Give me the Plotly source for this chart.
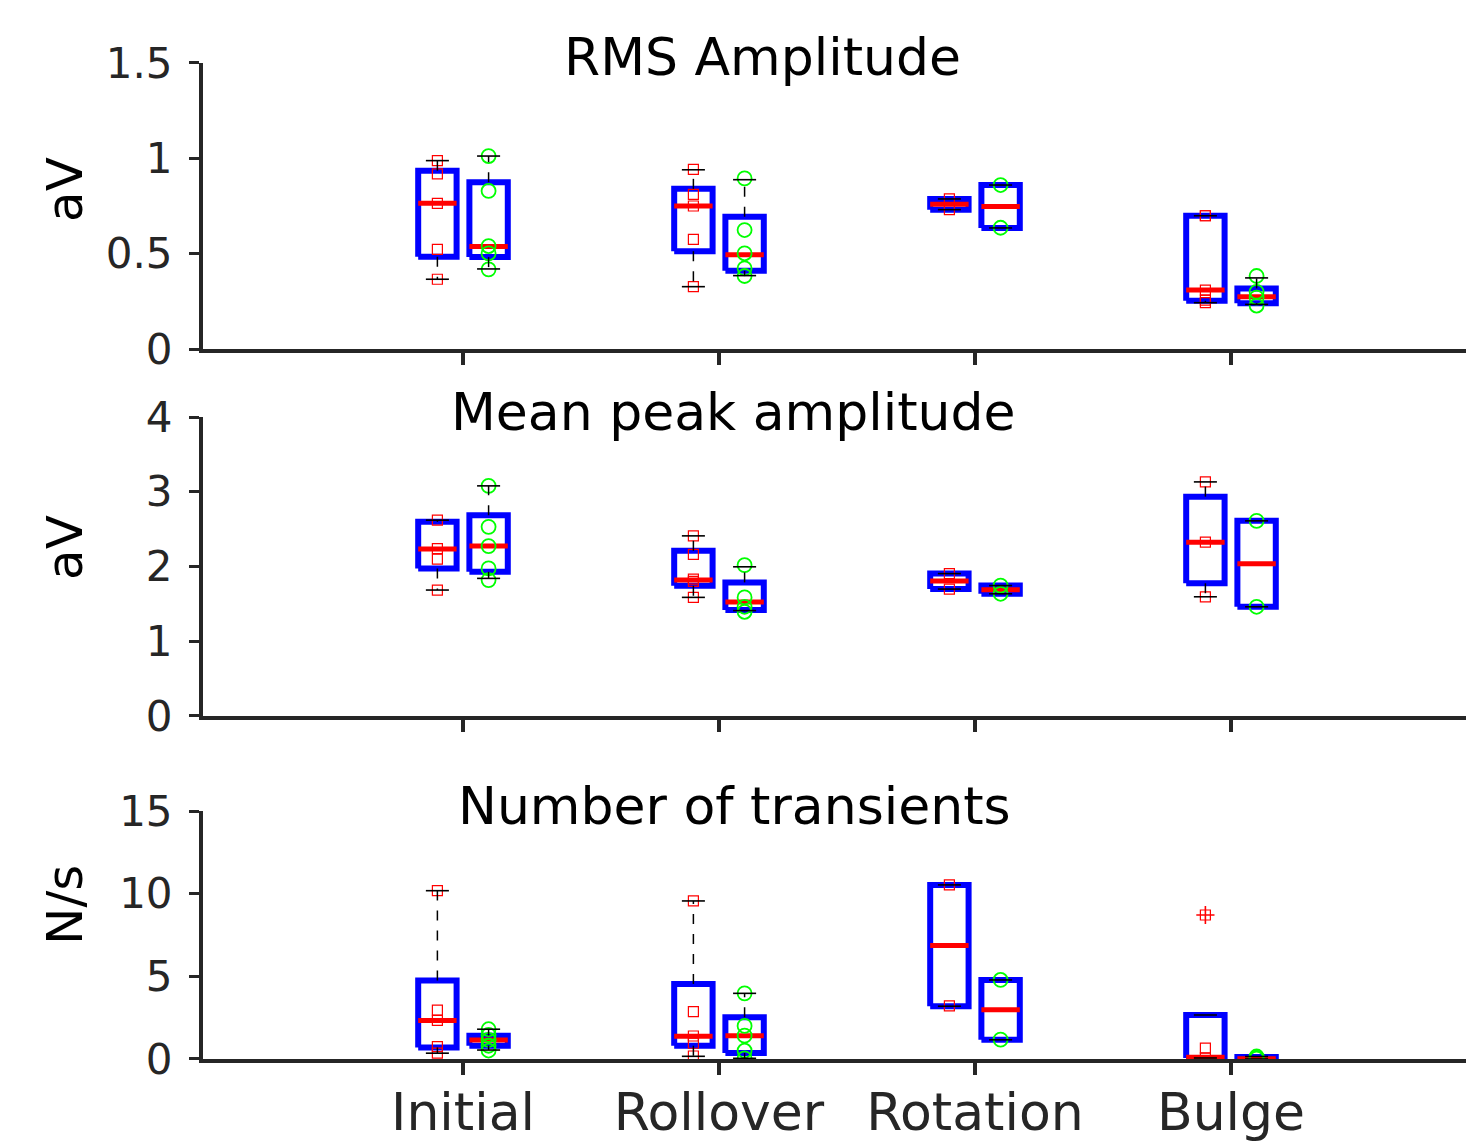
import plotly.graph_objects as go

# ---------------- data ----------------
categories = ["Initial", "Rollover", "Rotation", "Bulge"]
panel_titles = ["RMS Amplitude", "Mean peak amplitude", "Number of transients"]
panel_ylabels = ["aV", "aV", "N/s"]
panel_yticks = [[0, 0.5, 1, 1.5], [0, 1, 2, 3, 4], [0, 5, 10, 15]]
panel_yticktext = [["0", "0.5", "1", "1.5"], ["0", "1", "2", "3", "4"], ["0", "5", "10", "15"]]
panel_yranges = [[0, 1.5], [0, 4], [0, 15]]

# box statistics per category: (lower whisker, q1, median, q3, upper whisker)
rms_red_stats = [(0.366, 0.484, 0.764, 0.935, 0.988), (0.327, 0.513, 0.750, 0.840, 0.940),
                 (0.731, 0.731, 0.759, 0.787, 0.787), (0.243, 0.253, 0.309, 0.699, 0.699)]
rms_red_points = [[0.988, 0.918, 0.764, 0.523, 0.366], [0.942, 0.811, 0.750, 0.575, 0.327],
                  [0.787, 0.731], [0.699, 0.699, 0.309, 0.256, 0.243]]
rms_green_stats = [(0.420, 0.482, 0.538, 0.875, 1.012), (0.385, 0.410, 0.495, 0.693, 0.888),
                   (0.635, 0.635, 0.748, 0.860, 0.860), (0.234, 0.240, 0.274, 0.318, 0.373)]
rms_green_points = [[1.012, 0.829, 0.540, 0.502, 0.418], [0.895, 0.624, 0.502, 0.423, 0.383],
                    [0.860, 0.636], [0.383, 0.300, 0.270, 0.228]]

peak_red_stats = [(1.685, 1.975, 2.233, 2.598, 2.620), (1.587, 1.742, 1.818, 2.210, 2.410),
                  (1.698, 1.698, 1.805, 1.905, 1.905), (1.595, 1.776, 2.326, 2.935, 3.132)]
peak_red_points = [[2.620, 2.240, 2.100, 1.685], [2.410, 2.162, 1.830, 1.800, 1.587],
                   [1.905, 1.698], [3.132, 2.326, 1.595]]
peak_green_stats = [(1.841, 1.929, 2.273, 2.687, 3.079), (1.410, 1.417, 1.524, 1.787, 1.996),
                    (1.635, 1.635, 1.690, 1.745, 1.745), (1.461, 1.461, 2.036, 2.611, 2.611)]
peak_green_points = [[3.079, 2.531, 2.273, 1.975, 1.818], [2.019, 1.587, 1.461, 1.394],
                     [1.745, 1.635], [2.611, 1.461]]

trans_red_stats = [(0.35, 0.70, 2.32, 4.74, 10.18), (0.16, 0.80, 1.37, 4.54, 9.56),
                   (3.19, 3.19, 6.87, 10.53, 10.53), (0.06, 0.06, 0.10, 2.66, 2.66)]
trans_red_points = [[10.18, 2.96, 2.33, 0.75, 0.35], [9.56, 2.86, 1.39, 0.95, 0.18],
                    [10.53, 3.21], [8.71, 0.66, 0.06]]
trans_red_outliers = [[], [], [], [8.71]]
trans_green_stats = [(0.54, 0.80, 1.15, 1.41, 1.80), (0.04, 0.36, 1.41, 2.52, 3.97),
                     (1.16, 1.16, 2.97, 4.78, 4.78), (0.00, 0.00, 0.02, 0.12, 0.15)]
trans_green_points = [[1.80, 1.45, 1.15, 0.80, 0.51], [3.97, 2.00, 1.41, 0.50, 0.04],
                      [4.78, 1.17], [0.15, 0.08, 0.02]]

panels = [
    (rms_red_stats, rms_red_points, rms_green_stats, rms_green_points, [[], [], [], []]),
    (peak_red_stats, peak_red_points, peak_green_stats, peak_green_points, [[], [], [], []]),
    (trans_red_stats, trans_red_points, trans_green_stats, trans_green_points, trans_red_outliers),
]

# ---------------- styling ----------------
FONT = "DejaVu Sans"
AXIS_COLOR = "#262626"
BOX_W = 0.15
CAP_W = 0.09
OFFSET = 0.1
XRANGE = [-0.0156, 4.918]
domains = [[0.6941, 0.9448], [0.3725, 0.6345], [0.0719, 0.2892]]

fig = go.Figure()


def box_traces(stats, center_shift, xa, ya):
    bx, by, mx, my, wx, wy, cx, cy = [], [], [], [], [], [], [], []
    for i, (lo, q1, med, q3, hi) in enumerate(stats):
        c = i + 1 + center_shift
        l, r = c - BOX_W / 2, c + BOX_W / 2
        bx += [l, r, r, l, l, None]
        by += [q1, q1, q3, q3, q1, None]
        mx += [l, r, None]
        my += [med, med, None]
        wx += [c, c, None, c, c, None]
        wy += [q3, hi, None, q1, lo, None]
        cx += [c - CAP_W / 2, c + CAP_W / 2, None, c - CAP_W / 2, c + CAP_W / 2, None]
        cy += [hi, hi, None, lo, lo, None]
    return [
        go.Scatter(x=bx, y=by, mode="lines", line=dict(color="#0000ff", width=6),
                   xaxis=xa, yaxis=ya, hoverinfo="skip"),
        go.Scatter(x=mx, y=my, mode="lines", line=dict(color="#ff0000", width=5),
                   xaxis=xa, yaxis=ya, hoverinfo="skip"),
    ], [
        go.Scatter(x=wx, y=wy, mode="lines", line=dict(color="black", width=1.5, dash="10px,10px"),
                   xaxis=xa, yaxis=ya, hoverinfo="skip"),
        go.Scatter(x=cx, y=cy, mode="lines", line=dict(color="black", width=1.6),
                   xaxis=xa, yaxis=ya, hoverinfo="skip"),
    ]


def point_trace(points, center_shift, xa, ya, red):
    px, py = [], []
    for i, vals in enumerate(points):
        for v in vals:
            px.append(i + 1 + center_shift)
            py.append(v)
    if red:
        marker = dict(symbol="square-open", size=10, color="#ff0000", line=dict(width=1.2, color="#ff0000"))
    else:
        marker = dict(symbol="circle-open", size=14, color="#00ff00", line=dict(width=1.8, color="#00ff00"))
    return go.Scatter(x=px, y=py, mode="markers", marker=marker, xaxis=xa, yaxis=ya, hoverinfo="skip")


for p, (rs, rp, gs, gp, outl) in enumerate(panels):
    xa = "x" if p == 0 else f"x{p + 1}"
    ya = "y" if p == 0 else f"y{p + 1}"
    rb, rw = box_traces(rs, -OFFSET, xa, ya)
    gb, gw = box_traces(gs, OFFSET, xa, ya)
    for t in rb + gb:
        fig.add_trace(t)
    fig.add_trace(point_trace(rp, -OFFSET, xa, ya, True))
    fig.add_trace(point_trace(gp, OFFSET, xa, ya, False))
    for t in rw + gw:
        fig.add_trace(t)
    ox, oy = [], []
    for i, vals in enumerate(outl):
        for v in vals:
            ox.append(i + 1 - OFFSET)
            oy.append(v)
    if ox:
        fig.add_trace(go.Scatter(x=ox, y=oy, mode="markers",
                                 marker=dict(symbol="cross-thin-open", size=13, color="#ff0000",
                                             line=dict(width=1.6, color="#ff0000")),
                                 xaxis=xa, yaxis=ya, hoverinfo="skip"))

layout = dict(
    width=1466, height=1141, margin=dict(l=0, r=0, t=0, b=0),
    paper_bgcolor="white", plot_bgcolor="white", showlegend=False,
    font=dict(family=FONT, color=AXIS_COLOR),
)
for p in range(3):
    xk = "xaxis" if p == 0 else f"xaxis{p + 1}"
    yk = "yaxis" if p == 0 else f"yaxis{p + 1}"
    ya = "y" if p == 0 else f"y{p + 1}"
    xa = "x" if p == 0 else f"x{p + 1}"
    layout[xk] = dict(
        domain=[203 / 1466, 1.0], range=XRANGE, anchor=ya,
        tickmode="array", tickvals=[1, 2, 3, 4], ticktext=categories,
        showticklabels=(p == 2), ticks="outside", ticklen=12, tickwidth=4, tickcolor=AXIS_COLOR,
        showline=True, linewidth=4, linecolor=AXIS_COLOR, showgrid=False, zeroline=False,
        tickfont=dict(family=FONT, size=52, color=AXIS_COLOR), automargin=False,
        ticklabelstandoff=-7, fixedrange=True,
    )
    layout[yk] = dict(
        domain=domains[p], range=panel_yranges[p], anchor=xa,
        tickmode="array", tickvals=panel_yticks[p], ticktext=panel_yticktext[p],
        ticks="outside", ticklen=10, tickwidth=3, tickcolor=AXIS_COLOR,
        showline=True, linewidth=4, linecolor=AXIS_COLOR, showgrid=False, zeroline=False,
        tickfont=dict(family=FONT, size=42, color=AXIS_COLOR), automargin=False,
        ticklabelstandoff=8, fixedrange=True,
    )
fig.update_layout(**layout)

title_pos = [(762 / 1466, 1 - 57 / 1141), (733 / 1466, 1 - 412 / 1141), (734 / 1466, 1 - 806 / 1141)]
label_y = [1 - 190 / 1141, 1 - 548 / 1141, 1 - 905 / 1141]
for p in range(3):
    fig.add_annotation(text=panel_titles[p], xref="paper", yref="paper",
                       x=title_pos[p][0], y=title_pos[p][1], xanchor="center", yanchor="middle",
                       showarrow=False, font=dict(family=FONT, size=52, color="black"))
    fig.add_annotation(text=panel_ylabels[p], xref="paper", yref="paper",
                       x=65 / 1466, y=label_y[p], xanchor="center", yanchor="middle", textangle=-90,
                       showarrow=False, font=dict(family=FONT, size=50, color="black"))

fig.write_html("out.html")
